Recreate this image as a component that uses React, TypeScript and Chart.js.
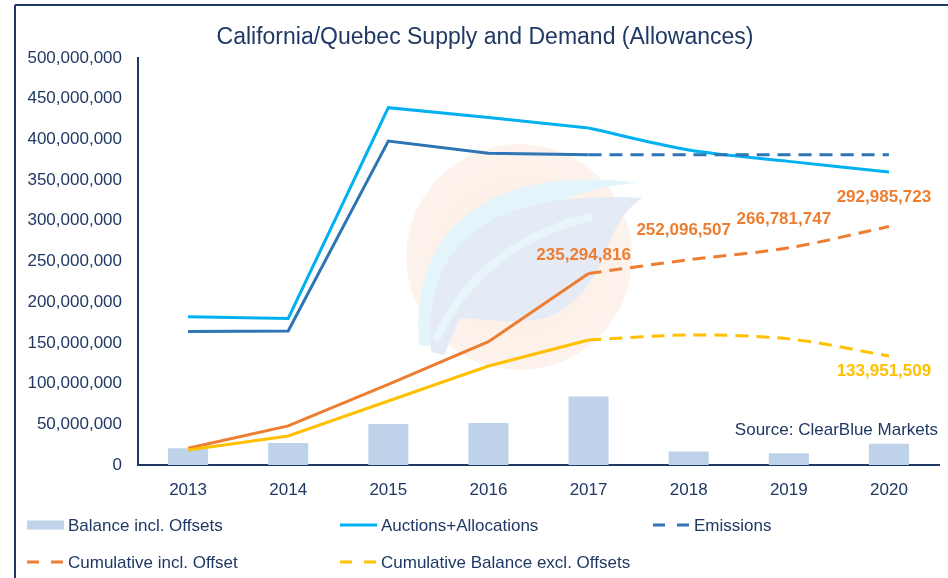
import React, { useEffect, useRef } from "react";
import { Chart, registerables } from "chart.js";

Chart.register(...registerables);

const years = ["2013", "2014", "2015", "2016", "2017", "2018", "2019", "2020"];
const balanceInclOffsets = [20.5e6, 27e6, 50.5e6, 51.5e6, 84e6, 16.5e6, 14.5e6, 26e6];
const auctionsAllocations = [182e6, 180e6, 439e6, 427e6, 414e6, 387e6, 373e6, 360e6];
const emissions = [164e6, 164.6e6, 398e6, 383e6, 381e6, 381e6, 381e6, 381e6];
const cumulativeInclOffset = [20.5e6, 48e6, 99e6, 151.5e6, 235294816, 252096507, 266781747, 292985723];
const cumulativeExclOffsets = [18.5e6, 35.6e6, 78.6e6, 121.6e6, 153.6e6, 159.7e6, 155e6, 133951509];
const lastActualIndex = 4; // 2017
const orangeLabelIdx = [4, 5, 6, 7];
const yellowLabelIdx = [7];
const yTicks = [0, 50e6, 100e6, 150e6, 200e6, 250e6, 300e6, 350e6, 400e6, 450e6, 500e6];

const NAVY = "#1F3864";
const BAR = "#BED2EA";
const LIGHTBLUE = "#00B0F0";
const DARKBLUE = "#2E75B6";
const ORANGE = "#ED7D31";
const YELLOW = "#FFC000";
const FONT = '"Liberation Sans", Arial, sans-serif';
const DASH = [13, 8];

const fmt = (v: number) => Math.round(v).toLocaleString("en-US");

type Series = { label: string; data: number[]; color: string; dashedForecast: boolean };

const lineSeries: Series[] = [
  { label: "Auctions+Allocations", data: auctionsAllocations, color: LIGHTBLUE, dashedForecast: false },
  { label: "Emissions", data: emissions, color: DARKBLUE, dashedForecast: true },
  { label: "Cumulative incl. Offset", data: cumulativeInclOffset, color: ORANGE, dashedForecast: true },
  { label: "Cumulative Balance excl. Offsets", data: cumulativeExclOffsets, color: YELLOW, dashedForecast: true },
];

const legendItems = [
  { label: "Balance incl. Offsets", color: BAR, kind: "box" },
  { label: "Auctions+Allocations", color: LIGHTBLUE, kind: "solid" },
  { label: "Emissions", color: DARKBLUE, kind: "dash" },
  { label: "Cumulative incl. Offset", color: ORANGE, kind: "dash" },
  { label: "Cumulative Balance excl. Offsets", color: YELLOW, kind: "dash" },
];

function buildDatasets() {
  const ds: any[] = [
    {
      type: "bar",
      label: "Balance incl. Offsets",
      data: balanceInclOffsets,
      backgroundColor: BAR,
      barPercentage: 0.4,
      categoryPercentage: 1,
      order: 10,
    },
  ];
  lineSeries.forEach((s, k) => {
    ds.push({
      type: "line",
      label: s.label,
      data: s.data.map((v, i) => (i <= lastActualIndex ? v : null)),
      borderColor: s.color,
      borderWidth: 3,
      pointRadius: 0,
      tension: 0,
      fill: false,
      order: 5 - k,
      spanGaps: false,
    });
    ds.push({
      type: "line",
      label: s.label + " (forecast)",
      data: s.data.map((v, i) => (i >= lastActualIndex ? v : null)),
      borderColor: s.color,
      borderWidth: 3,
      borderDash: s.dashedForecast ? DASH : [],
      pointRadius: 0,
      tension: 0.3,
      fill: false,
      order: 5 - k,
      spanGaps: false,
    });
  });
  return ds;
}

const decorPlugin = {
  id: "decor",
  beforeDraw(chart: any) {
    const { ctx, width, height } = chart;
    ctx.save();
    ctx.fillStyle = "#ffffff";
    ctx.fillRect(0, 0, width, height);
    ctx.strokeStyle = NAVY;
    ctx.lineWidth = 2;
    ctx.beginPath();
    ctx.moveTo(15, 5);
    ctx.lineTo(width, 5);
    ctx.moveTo(15, 5);
    ctx.lineTo(15, height);
    ctx.stroke();
    // title
    ctx.fillStyle = NAVY;
    ctx.font = `23px ${FONT}`;
    ctx.textAlign = "center";
    ctx.textBaseline = "middle";
    ctx.fillText("California/Quebec Supply and Demand (Allowances)", 485, 38);
    ctx.restore();
  },
  beforeDatasetsDraw(chart: any) {
    const { ctx, chartArea } = chart;
    const cx = chartArea.left + 0.476 * (chartArea.right - chartArea.left);
    const cy = chartArea.top + 0.489 * (chartArea.bottom - chartArea.top);
    ctx.save();
    // watermark circle
    const g = ctx.createRadialGradient(cx, cy, 20, cx, cy, 113);
    g.addColorStop(0, "rgba(252,234,221,0.8)");
    g.addColorStop(1, "rgba(252,238,228,0.7)");
    ctx.fillStyle = g;
    ctx.beginPath();
    ctx.arc(cx, cy, 113, 0, Math.PI * 2);
    ctx.fill();
    // cyan band
    ctx.fillStyle = "rgba(226,244,251,0.95)";
    ctx.beginPath();
    ctx.moveTo(cx - 100, cy + 88);
    ctx.bezierCurveTo(cx - 110, cy - 20, cx - 40, cy - 95, cx + 120, cy - 74);
    ctx.bezierCurveTo(cx + 40, cy - 70, cx - 60, cy - 20, cx - 85, cy + 90);
    ctx.closePath();
    ctx.fill();
    // main leaf
    ctx.fillStyle = "rgba(228,234,245,0.95)";
    ctx.beginPath();
    ctx.moveTo(cx - 88, cy + 95);
    ctx.bezierCurveTo(cx - 95, cy + 20, cx - 70, cy - 70, cx + 123, cy - 59);
    ctx.bezierCurveTo(cx + 80, cy - 30, cx + 95, cy + 20, cx + 40, cy + 55);
    ctx.bezierCurveTo(cx + 10, cy + 72, cx - 40, cy + 60, cx - 60, cy + 62);
    ctx.lineTo(cx - 75, cy + 98);
    ctx.closePath();
    ctx.fill();
    // vein
    ctx.strokeStyle = "rgba(232,245,251,0.95)";
    ctx.lineWidth = 8;
    ctx.lineCap = "round";
    ctx.beginPath();
    ctx.moveTo(cx - 82, cy + 80);
    ctx.bezierCurveTo(cx - 50, cy + 10, cx + 10, cy - 25, cx + 70, cy - 40);
    ctx.stroke();
    ctx.restore();
  },
  afterDatasetsDraw(chart: any) {
    const { ctx, scales } = chart;
    const x = scales.x;
    const y = scales.y;
    ctx.save();
    ctx.font = `bold 17px ${FONT}`;
    ctx.textAlign = "center";
    ctx.textBaseline = "middle";
    ctx.fillStyle = ORANGE;
    orangeLabelIdx.forEach((i) => {
      const px = x.getPixelForValue(i);
      const py = y.getPixelForValue(cumulativeInclOffset[i]);
      const dy = i === lastActualIndex ? 18 : 29;
      ctx.fillText(fmt(cumulativeInclOffset[i]), px - 5, py - dy);
    });
    ctx.fillStyle = YELLOW;
    yellowLabelIdx.forEach((i) => {
      const px = x.getPixelForValue(i);
      const py = y.getPixelForValue(cumulativeExclOffsets[i]);
      ctx.fillText(fmt(cumulativeExclOffsets[i]), px - 5, py + 15);
    });
    // source
    ctx.fillStyle = NAVY;
    ctx.font = `17px ${FONT}`;
    ctx.textAlign = "right";
    ctx.fillText("Source: ClearBlue Markets", chart.chartArea.right - 1, y.getPixelForValue(0) - 35);
    ctx.restore();
  },
  afterDraw(chart: any) {
    const { ctx } = chart;
    ctx.save();
    ctx.font = `17px ${FONT}`;
    ctx.textBaseline = "middle";
    ctx.textAlign = "left";
    legendItems.forEach((it, i) => {
      const col = i % 3;
      const row = Math.floor(i / 3);
      const x0 = 27 + col * 313;
      const yc = 525 + row * 37;
      if (it.kind === "box") {
        ctx.fillStyle = it.color;
        ctx.fillRect(x0, yc - 4.5, 37, 9);
      } else {
        ctx.strokeStyle = it.color;
        ctx.lineWidth = 3;
        ctx.setLineDash(it.kind === "dash" ? [12, 12] : []);
        ctx.beginPath();
        ctx.moveTo(x0, yc);
        ctx.lineTo(x0 + 37, yc);
        ctx.stroke();
        ctx.setLineDash([]);
      }
      ctx.fillStyle = NAVY;
      ctx.fillText(it.label, x0 + 41, yc + 1);
    });
    ctx.restore();
  },
};

export default function App() {
  const ref = useRef<HTMLCanvasElement | null>(null);
  useEffect(() => {
    if (!ref.current) return;
    const chart = new Chart(ref.current, {
      type: "bar",
      data: { labels: years, datasets: buildDatasets() },
      options: {
        responsive: false,
        animation: false,
        devicePixelRatio: 1,
        layout: { padding: { left: 0, top: 58, right: 9, bottom: 73 } },
        plugins: { legend: { display: false }, tooltip: { enabled: false }, title: { display: false } },
        scales: {
          x: {
            grid: { display: false, drawTicks: false },
            border: { display: true, color: NAVY, width: 2 },
            ticks: { color: NAVY, font: { size: 17, family: FONT }, padding: 15, maxRotation: 0 },
            afterFit: (s: any) => {
              s.height = 40;
            },
          },
          y: {
            min: 0,
            max: 500e6,
            afterBuildTicks: (s: any) => {
              s.ticks = yTicks.map((v) => ({ value: v }));
            },
            grid: { display: false, drawTicks: false },
            border: { display: true, color: NAVY, width: 2 },
            ticks: {
              color: NAVY,
              font: { size: 17, family: FONT },
              padding: 16,
              callback: (v: any) => fmt(Number(v)),
            },
            afterFit: (s: any) => {
              s.width = 138;
            },
          },
        },
      } as any,
      plugins: [decorPlugin],
    });
    return () => chart.destroy();
  }, []);
  return (
    <div style={{ position: "absolute", left: 0, top: 0, width: 948, height: 578, background: "#fff" }}>
      <canvas ref={ref} width={948} height={578} style={{ display: "block", width: 948, height: 578 }} />
    </div>
  );
}
